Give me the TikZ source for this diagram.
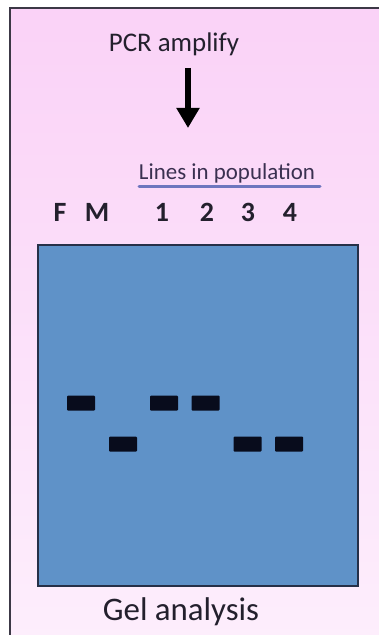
\documentclass[tikz,border=0pt]{standalone}
\usepackage{fontspec}
\setmainfont{Carlito}
\usepackage{tikz}
\usetikzlibrary{arrows.meta,positioning,calc}
\definecolor{pinktop}{RGB}{250,210,247}
\definecolor{pinkbot}{RGB}{253,238,252}
\definecolor{framegray}{RGB}{60,56,70}
\definecolor{gelblue}{RGB}{95,146,200}
\definecolor{gelrim}{RGB}{38,48,72}
\definecolor{bandblk}{RGB}{8,12,28}
\definecolor{inkdark}{RGB}{35,32,45}
\definecolor{ulblue}{RGB}{110,118,190}
\tikzset{
  amparr/.style={-{Triangle[length=20bp,width=22bp]}, black, line width=6bp},
  gelbox/.style={draw=gelrim, fill=gelblue, line width=1.6bp, inner sep=0pt,
                 minimum width=320bp, minimum height=341bp},
  band/.style={fill=bandblk, rounded corners=1bp, inner sep=0pt,
               minimum width=28bp, minimum height=15bp},
  lanelab/.style={font=\fontsize{28}{29}\selectfont\bfseries, text=inkdark, inner sep=0pt},
  ttl/.style={text=inkdark, inner sep=0pt},
  ulin/.style={ulblue, line width=3bp, line cap=round},
}

\begin{document}
\begin{tikzpicture}[x=1bp, y=-1bp]
    \useasboundingbox (0,0) rectangle (378,635);
    % pink panel, cut off at the right and bottom
    \shade[top color=pinktop, bottom color=pinkbot] (10,8) rectangle (380,640);
    \draw[framegray, line width=2.6bp] (10,640) -- (10,8) -- (380,8);
    % amplification step
    \node[ttl, font=\fontsize{27}{28}\selectfont] (pcr) at (174,44) {PCR amplify};
    \coordinate (amptop) at (188,68);
    \coordinate (amptip) at (188,128);
    \draw[amparr] (amptop) -- (amptip);
    % lane headers
    \node[ttl, font=\fontsize{23}{24}\selectfont, text={rgb,255:red,58;green,48;blue,80}] (lip) at (227,173) {Lines in population};
    \coordinate (ulA) at (139,186);
    \coordinate (ulB) at (320,186);
    \draw[ulin] (ulA) -- (ulB);
    \foreach \lab/\x in {F/60, M/97, 1/162, 2/207, 3/248, 4/290}{
      \node[lanelab] (lab\lab) at (\x,212) {\lab};}
    % gel with bands
    \node[gelbox] (gel) at (198,415.5) {};
    \foreach \nm/\x/\y in {F/81/403, M/123/444, 1/164/403, 2/205.5/403, 3/247.5/444, 4/289/444}{
      \node[band] (band\nm) at (\x,\y) {};}
    \node[ttl, font=\fontsize{33}{34}\selectfont] (gelcap) at (181,612) {Gel analysis};
  \end{tikzpicture}
\end{document}
